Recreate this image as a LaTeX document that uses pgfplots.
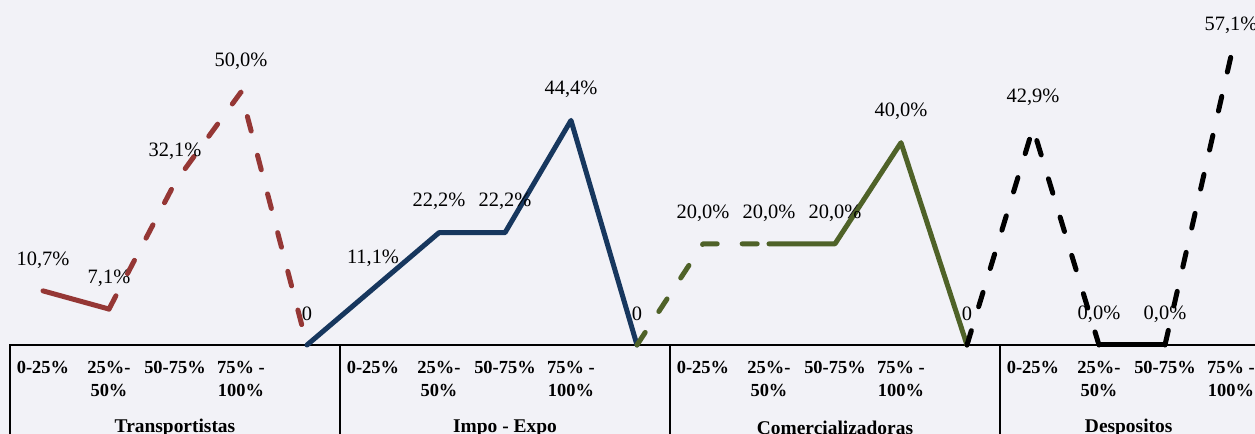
\documentclass[border=0pt]{standalone}
\usepackage{pgfplots}
\pgfplotsset{compat=1.18}
\usepackage{fontspec}
\setmainfont{Liberation Serif}
\definecolor{bg}{RGB}{242,242,247}
\definecolor{tred}{RGB}{149,55,53}
\definecolor{tnavy}{RGB}{23,55,94}
\definecolor{tgreen}{RGB}{79,98,40}
\begin{document}
\begin{tikzpicture}[x=1bp,y=1bp]
\fill[bg] (0,0) rectangle (1255,434);
\begin{axis}[
  at={(10bp,89bp)}, anchor=south west,
  scale only axis, width=1254bp, height=344bp,
  xmin=-0.5, xmax=18.5, ymin=0, ymax=68,
  clip=false,
  axis line style={draw=none},
  ytick=\empty,
  xtick={0,...,18},
  major tick length=0pt,
  xticklabels={0-25\%,25\%-\\50\%,50-75\%,75\% -\\100\%,{},
               0-25\%,25\%-\\50\%,50-75\%,75\% -\\100\%,{},
               0-25\%,25\%-\\50\%,50-75\%,75\% -\\100\%,{},
               0-25\%,25\%-\\50\%,50-75\%,75\% -\\100\%},
  x tick label style={font=\fontsize{18.5}{23}\selectfont\bfseries, align=center, anchor=north, yshift=-13bp},
  every node near coord/.append style={font=\fontsize{20.5}{24}\selectfont, anchor=center, yshift=31bp},
  every axis plot/.append style={line width=5bp, line join=round, line cap=round},
]
% table frame
\draw[black, line width=2bp, line cap=rect] (axis cs:-0.5,0) -- (axis cs:18.7,0);
\draw[black, line width=2bp] (axis cs:-0.5,0) -- (axis cs:-0.5,-25);
\draw[black, line width=2bp] (axis cs:4.5,0) -- (axis cs:4.5,-25);
\draw[black, line width=2bp] (axis cs:9.5,0) -- (axis cs:9.5,-25);
\draw[black, line width=2bp] (axis cs:14.5,0) -- (axis cs:14.5,-25);
\node[font=\fontsize{19.5}{23}\selectfont\bfseries] at (axis cs:2,0) [yshift=-83bp] {Transportistas};
\node[font=\fontsize{19.5}{23}\selectfont\bfseries] at (axis cs:7,0) [yshift=-83bp] {Impo - Expo};
\node[font=\fontsize{19.5}{23}\selectfont\bfseries] at (axis cs:12,0) [yshift=-83bp] {Comercializadoras};
\node[font=\fontsize{19.5}{23}\selectfont\bfseries] at (axis cs:16.45,0) [yshift=-83bp] {Despositos};
% segments
\addplot[tred] coordinates {(0,10.7) (1,7.1)};
\addplot[tred, dash pattern=on 15bp off 25bp] coordinates {(1,7.1) (2,32.1) (3,50.0) (4,0)};
\addplot[tnavy] coordinates {(4,0) (5,11.1) (6,22.2) (7,22.2) (8,44.4) (9,0)};
\addplot[tgreen, dash pattern=on 15bp off 25bp] coordinates {(9,0) (10,20.0) (11,20.0)};
\addplot[tgreen] coordinates {(11,20.0) (12,20.0) (13,40.0) (14,0)};
\addplot[black, dash pattern=on 15bp off 25bp] coordinates {(14,0) (15,42.9) (16,0)};
\addplot[black] coordinates {(16,0) (17,0)};
\addplot[black, dash pattern=on 15bp off 25bp] coordinates {(17,0) (18,57.1)};
% data labels
\addplot[draw=none, mark=none, nodes near coords, point meta=explicit symbolic] coordinates {
 (0,10.7) [10,7\%] (1,7.1) [7,1\%] (2,32.1) [32,1\%] (3,50.0) [50,0\%] (4,0) [0]
 (5,11.1) [11,1\%] (6,22.2) [22,2\%] (7,22.2) [22,2\%] (8,44.4) [44,4\%] (9,0) [0]
 (10,20.0) [20,0\%] (11,20.0) [20,0\%] (12,20.0) [20,0\%] (13,40.0) [40,0\%] (14,0) [0]
 (15,42.9) [42,9\%] (16,0) [0,0\%] (17,0) [0,0\%] (18,57.1) [57,1\%]
};
\end{axis}
\pgfresetboundingbox
\useasboundingbox (0,0) rectangle (1255,434);
\end{tikzpicture}
\end{document}
